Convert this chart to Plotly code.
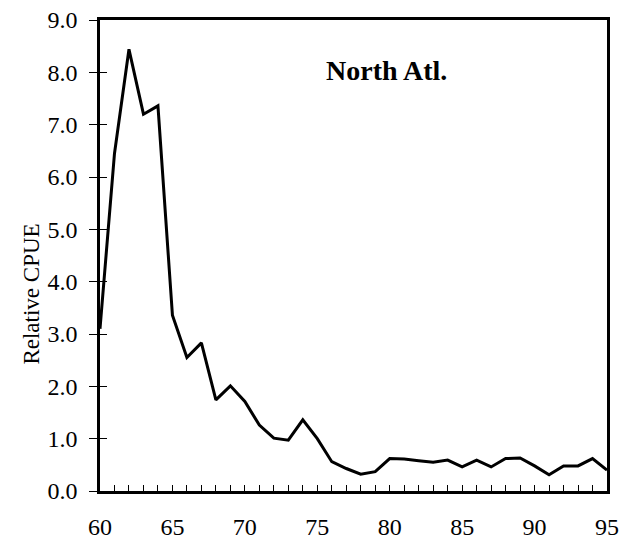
import plotly.graph_objects as go

years = list(range(60, 96))
cpue = [3.1, 6.45, 8.44, 7.20, 7.36, 3.36, 2.55, 2.83, 1.74, 2.01,
        1.71, 1.26, 1.01, 0.97, 1.36, 1.00, 0.56, 0.43, 0.32, 0.37,
        0.62, 0.61, 0.58, 0.55, 0.59, 0.46, 0.59, 0.46, 0.62, 0.63,
        0.48, 0.31, 0.48, 0.48, 0.62, 0.40]
x_ticks = [60, 65, 70, 75, 80, 85, 90, 95]
y_ticks = [0, 1, 2, 3, 4, 5, 6, 7, 8, 9]
y_labels = [f"{v:.1f}" for v in y_ticks]

SERIF = "Liberation Serif, Times New Roman, serif"

fig = go.Figure()
fig.add_trace(go.Scatter(x=years, y=cpue, mode="lines",
                         line=dict(color="black", width=3), showlegend=False))
# invisible trace for overlay axis
fig.add_trace(go.Scatter(x=years, y=cpue, mode="lines", xaxis="x", yaxis="y2",
                         line=dict(color="rgba(0,0,0,0)", width=0), showlegend=False,
                         hoverinfo="skip"))

fig.update_layout(
    width=621, height=541,
    margin=dict(l=100, r=14, t=20, b=50),
    paper_bgcolor="white", plot_bgcolor="white",
    font=dict(family=SERIF, color="black"),
    xaxis=dict(range=[60, 95], tickvals=x_ticks, ticktext=[str(v) for v in x_ticks],
               ticks="inside", ticklen=6, tickwidth=1, tickcolor="black",
               minor=dict(ticks="inside", dtick=1, ticklen=6, tickwidth=1, tickcolor="black"),
               showline=True, linecolor="black", linewidth=2.5, mirror=True,
               showgrid=False, zeroline=False, automargin=False,
               tickfont=dict(size=24, family=SERIF), ticklabelstandoff=12),
    yaxis=dict(range=[0, 9], tickvals=y_ticks, ticktext=y_labels,
               ticks="outside", ticklen=8, tickwidth=1, tickcolor="black",
               showline=True, linecolor="black", linewidth=2.5, mirror=True,
               showgrid=False, zeroline=False, automargin=False,
               tickfont=dict(size=24, family=SERIF), ticklabelstandoff=7),
    yaxis2=dict(range=[0, 9], overlaying="y", side="left", tickvals=y_ticks,
                showticklabels=False, ticks="inside", ticklen=7, tickwidth=1,
                tickcolor="black", showline=False, showgrid=False, zeroline=False,
                automargin=False),
    annotations=[
        dict(text="Relative CPUE", xref="paper", yref="paper",
             x=-(100 - 32) / 507, y=0.417, xanchor="center", yanchor="middle",
             textangle=-90, showarrow=False, font=dict(size=23, family=SERIF)),
        dict(text="<b>North Atl.</b>", xref="paper", yref="paper",
             x=0.565, y=0.892, xanchor="center", yanchor="middle",
             showarrow=False, font=dict(size=28, family=SERIF)),
    ],
)

fig.write_html("out.html")
